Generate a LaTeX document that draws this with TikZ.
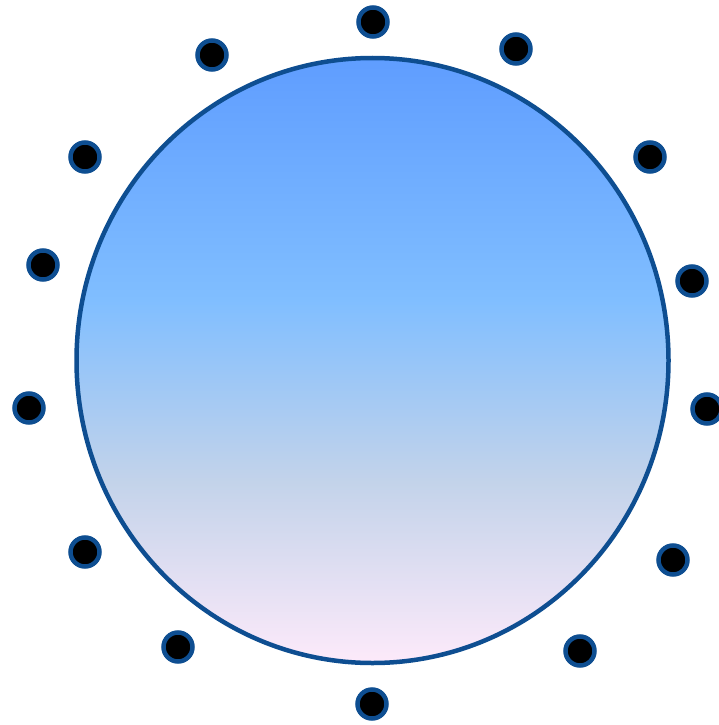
\documentclass[tikz,border=0pt]{standalone}
\usetikzlibrary{shapes.geometric}

\definecolor{rimblue}{RGB}{14,78,145}
\definecolor{topblue}{RGB}{95,157,255}
\definecolor{midblue}{RGB}{128,190,255}
\definecolor{greyblue}{RGB}{195,211,234}
\definecolor{palepink}{RGB}{253,234,250}

\pgfdeclareverticalshading{globe}{100bp}{color(0bp)=(palepink); color(25bp)=(palepink);
    color(40bp)=(greyblue); color(55bp)=(midblue); color(75bp)=(topblue);
    color(100bp)=(topblue)}

\begin{document}
\begin{tikzpicture}[x=1pt, y=-1pt,
    globe/.style={draw=rimblue, line width=4.5pt, shading=globe,
        ellipse, minimum width=592pt, minimum height=605pt, inner sep=0pt},
    dot/.style={circle, draw=rimblue, fill=black, line width=4.5pt,
        minimum size=29pt, inner sep=0pt}
]
    \useasboundingbox[fill=white] (0,0) rectangle (719,725);

    \node[globe] (ball) at (372.5,360.5) {};

    \foreach \x/\y [count=\i] in {373/22, 516/49, 650/157, 692/281, 707/409,
        673/560, 580/651, 372/704, 178/647, 85/552, 29/408, 43/265,
        85/157, 212/55}
        \node[dot] (dot\i) at (\x,\y) {};
\end{tikzpicture}
\end{document}
